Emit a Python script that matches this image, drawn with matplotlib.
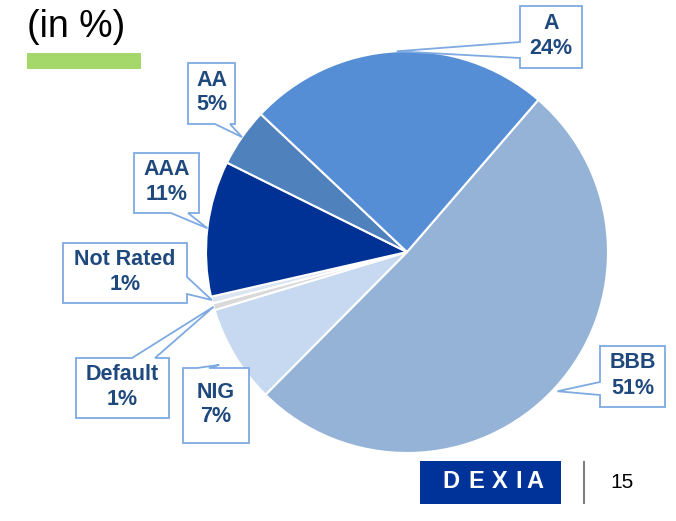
import matplotlib
matplotlib.use("Agg")
import matplotlib.pyplot as plt
from matplotlib.patches import Polygon, Rectangle
import numpy as np

# ---- data ----
categories = ["BBB", "NIG", "Default", "Not Rated", "AAA", "AA", "A"]
shares = [51.1, 7.9, 0.55, 0.55, 10.9, 4.7, 24.3]          # slice sizes
shown_pct = ["51%", "7%", "1%", "1%", "11%", "5%", "24%"]  # printed labels
colors = ["#95B3D7", "#C6D9F1", "#D9D9D9", "#DCE6F2", "#003296", "#4F81BD", "#558ED5"]

W, H = 676, 521
fig = plt.figure(figsize=(W / 100, H / 100), dpi=100)
ax = fig.add_axes([0, 0, 1, 1])

cx, cy, R = 407, H - 252, 201
wedges, _ = ax.pie(shares, colors=colors, startangle=49.2, counterclock=False,
                   center=(cx, cy), radius=R,
                   wedgeprops=dict(edgecolor="white", linewidth=1.5))
ax.set_xlim(0, W)
ax.set_ylim(0, H)
ax.set_aspect("equal")
ax.axis("off")

def P(x, y):
    return (x, H - y)

# callout layout: box (pixel coords x0,y0,x1,y1), side, base positions, tip radius factor
layout = {
    "A":         ((520, 6, 582, 68), "left", (42, 58), 1.0),
    "AA":        ((188, 63, 235, 124), "bottom", (215, 230), 1.0),
    "AAA":       ((134, 153, 199, 213), "bottom", (171, 188), 1.0),
    "Not Rated": ((63, 243, 187, 303), "right", (277, 294), 1.0),
    "Default":   ((76, 358, 169, 418), "top", (132, 155), 1.0),
    "NIG":       ((183, 368, 249, 443), "top", (197, 209), 1.09),
    "BBB":       ((600, 346, 665, 407), "left", (382, 395), 1.02),
}

border = "#7EAAE2"
txtc = "#1F497D"

for w, cat, pct in zip(wedges, categories, shown_pct):
    (x0, y0, x1, y1), side, (a, b), f = layout[cat]
    th = np.deg2rad((w.theta1 + w.theta2) / 2)
    tip = (w.center[0] + w.r * f * np.cos(th), w.center[1] + w.r * f * np.sin(th))
    if side == "left":
        pts = [P(x0, y0), P(x1, y0), P(x1, y1), P(x0, y1), P(x0, b), tip, P(x0, a)]
    elif side == "right":
        pts = [P(x0, y0), P(x1, y0), P(x1, a), tip, P(x1, b), P(x1, y1), P(x0, y1)]
    elif side == "top":
        pts = [P(x0, y0), P(a, y0), tip, P(b, y0), P(x1, y0), P(x1, y1), P(x0, y1)]
    else:
        pts = [P(x0, y0), P(x1, y0), P(x1, y1), P(b, y1), tip, P(a, y1), P(x0, y1)]
    ax.add_patch(Polygon(pts, closed=True, facecolor="white", edgecolor=border,
                         linewidth=1.3, joinstyle="miter", zorder=3))
    ax.text((x0 + x1) / 2, H - (y0 + y1) / 2 + 1, f"{cat}\n{pct}", ha="center", va="center",
            fontsize=15.5, fontweight="bold", color=txtc, family="Liberation Sans",
            linespacing=1.25, zorder=4)

# title and green bar
ax.text(27, H - 37, "(in %)", fontsize=27, family="Liberation Sans", color="black",
        ha="left", va="baseline")
ax.add_patch(Rectangle(P(27, 69), 114, 16, facecolor="#A5D86A", edgecolor="none"))

# DEXIA logo
ax.add_patch(Rectangle(P(420, 504), 141, 43, facecolor="#00339A", edgecolor="none"))
for ch, xc in zip("DEXIA", [450.5, 476, 500, 519, 534.5]):
    ax.text(xc, H - 488, ch, ha="center", va="baseline", color="white",
            fontsize=17, fontweight="bold", family="Liberation Sans")
ax.plot([584, 584], [H - 462, H - 503], color="#7F7F7F", linewidth=1.5)
ax.text(622, H - 482, "15", ha="center", va="center", fontsize=15,
        family="Liberation Sans", color="black")

fig.savefig("out.png", dpi=100)
